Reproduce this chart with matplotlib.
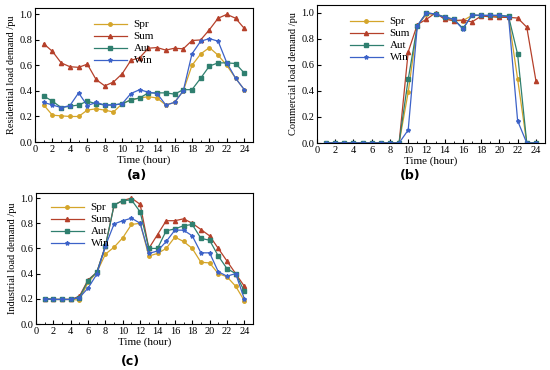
import matplotlib.pyplot as plt

plt.rcParams['font.family'] = ['Liberation Serif', 'DejaVu Serif']

hours = list(range(1, 25))
seasons = ["Spr", "Sum", "Aut", "Win"]

# residential load demand (a)
res_spr = [0.29, 0.21, 0.205, 0.20, 0.20, 0.25, 0.26, 0.25, 0.235, 0.30, 0.33, 0.345,
           0.355, 0.345, 0.29, 0.31, 0.40, 0.60, 0.69, 0.74, 0.68, 0.60, 0.50, 0.41]
res_sum = [0.77, 0.71, 0.62, 0.59, 0.585, 0.61, 0.49, 0.44, 0.47, 0.535, 0.64, 0.66,
           0.735, 0.74, 0.72, 0.735, 0.73, 0.795, 0.80, 0.88, 0.97, 1.0, 0.97, 0.89]
res_aut = [0.36, 0.32, 0.27, 0.28, 0.29, 0.32, 0.30, 0.29, 0.29, 0.30, 0.33, 0.345,
           0.385, 0.385, 0.385, 0.375, 0.41, 0.41, 0.50, 0.595, 0.62, 0.62, 0.615, 0.54]
res_win = [0.31, 0.29, 0.27, 0.285, 0.385, 0.285, 0.31, 0.29, 0.29, 0.30, 0.38, 0.41,
           0.39, 0.38, 0.29, 0.31, 0.40, 0.69, 0.79, 0.81, 0.79, 0.62, 0.50, 0.41]

# commercial load demand (b)
com_spr = [0, 0, 0, 0, 0, 0, 0, 0, 0, 0.39, 0.90, 0.99,
           0.99, 0.96, 0.94, 0.94, 0.98, 0.98, 0.975, 0.97, 0.97, 0.49, 0, 0]
com_sum = [0, 0, 0, 0, 0, 0, 0, 0, 0, 0.70, 0.91, 0.95,
           1.0, 0.95, 0.94, 0.945, 0.93, 0.975, 0.97, 0.965, 0.965, 0.96, 0.89, 0.48]
com_aut = [0, 0, 0, 0, 0, 0, 0, 0, 0, 0.49, 0.90, 1.0,
           0.99, 0.97, 0.95, 0.88, 0.98, 0.98, 0.98, 0.98, 0.975, 0.68, 0, 0]
com_win = [0, 0, 0, 0, 0, 0, 0, 0, 0, 0.10, 0.90, 1.0,
           0.99, 0.965, 0.95, 0.875, 0.985, 0.98, 0.98, 0.98, 0.97, 0.17, 0, 0]

# industrial load demand (c)
ind_spr = [0.20, 0.195, 0.195, 0.195, 0.19, 0.33, 0.41, 0.555, 0.61, 0.685, 0.79, 0.80,
           0.54, 0.56, 0.60, 0.69, 0.655, 0.60, 0.49, 0.485, 0.40, 0.375, 0.30, 0.185]
ind_sum = [0.20, 0.195, 0.195, 0.195, 0.22, 0.35, 0.41, 0.62, 0.945, 0.98, 1.0, 0.95,
           0.60, 0.71, 0.82, 0.82, 0.835, 0.80, 0.75, 0.70, 0.60, 0.50, 0.40, 0.30]
ind_aut = [0.20, 0.195, 0.195, 0.195, 0.21, 0.345, 0.41, 0.62, 0.945, 0.98, 0.985, 0.89,
           0.60, 0.60, 0.74, 0.755, 0.78, 0.79, 0.68, 0.665, 0.54, 0.44, 0.40, 0.26]
ind_win = [0.20, 0.195, 0.195, 0.195, 0.21, 0.285, 0.395, 0.62, 0.795, 0.82, 0.84, 0.80,
           0.56, 0.58, 0.655, 0.745, 0.745, 0.70, 0.565, 0.565, 0.415, 0.38, 0.40, 0.20]

colors = ['#D4A52A', '#B5402A', '#2F7F6F', '#3C62C8']
markers = ['o', '^', 's', '*']
msizes = [2.5, 3, 2.5, 3]

fig = plt.figure(figsize=(5.5, 3.7), dpi=100)

panels = [
    ([35, 142, 253, 8], [res_spr, res_sum, res_aut, res_win], "Residential load demand /pu", 1.05, "(a)", (137, 175), (52, 5)),
    ([317, 143, 545, 5], [com_spr, com_sum, com_aut, com_win], "Commercial load demand /pu", 1.06, "(b)", (410, 175), (26, 5)),
    ([36, 324, 253, 193], [ind_spr, ind_sum, ind_aut, ind_win], "Industrial load demand /pu", 1.04, "(c)", (130, 362), (8, 3)),
]

W, H = 550, 370
for (x0, y0, x1, y1), data, ylab, ytop, tag, tagpos, legoff in panels:
    ax = fig.add_axes([x0 / W, 1 - y0 / H, (x1 - x0) / W, (y0 - y1) / H])
    for vals, name, c, m, ms in zip(data, seasons, colors, markers, msizes):
        ax.plot(hours, vals, color=c, marker=m, markersize=ms, linewidth=0.9, label=name)
    ax.set_xlim(0, 25)
    ax.set_ylim(0, ytop)
    ax.set_xticks(range(0, 25, 2))
    ax.set_xticks(range(1, 25, 2), minor=True)
    ax.set_yticks([0, 0.2, 0.4, 0.6, 0.8, 1.0])
    ax.set_yticklabels(["0.0", "0.2", "0.4", "0.6", "0.8", "1.0"])
    ax.tick_params(direction='in', labelsize=7.5, length=3, width=0.8, pad=2)
    ax.tick_params(which='minor', direction='in', length=1.5)
    ax.set_xlabel("Time (hour)", fontsize=8, labelpad=1)
    ax.set_ylabel(ylab, fontsize=7.5, labelpad=2)
    for s in ax.spines.values():
        s.set_linewidth(0.8)
    ax.legend(loc='upper left', frameon=False, fontsize=8, handlelength=3.0,
              labelspacing=0.2, borderaxespad=0.2, handletextpad=0.6,
              bbox_to_anchor=(legoff[0] / (x1 - x0), 1 - legoff[1] / (y0 - y1)))
    fig.text(tagpos[0] / W, 1 - tagpos[1] / H, tag, fontsize=9, fontweight='bold',
             family=['DejaVu Sans'], ha='center', va='center')

fig.savefig("out.png", dpi=100)
